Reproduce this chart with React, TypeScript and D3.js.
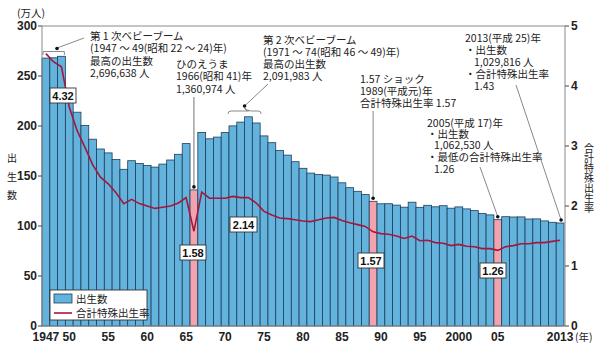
import React from "react";
import * as d3 from "d3";

const years: number[] = d3.range(1947, 2014);
const births: number[] = [
  267.9, 268.2, 269.7, 233.8, 213.8, 200.5, 186.8, 177.0, 173.1, 166.5,
  156.7, 165.3, 162.6, 160.6, 158.9, 161.9, 166.0, 171.7, 182.4, 136.1,
  193.6, 187.2, 188.9, 193.4, 200.1, 203.9, 209.2, 203.0, 190.1, 183.3,
  175.5, 170.9, 164.3, 157.7, 152.9, 151.5, 150.9, 149.0, 143.2, 138.3,
  134.7, 131.4, 124.7, 122.2, 122.3, 120.9, 118.8, 123.8, 118.7, 120.7,
  119.2, 120.3, 117.8, 119.1, 117.1, 115.4, 112.4, 111.1, 106.3, 109.3,
  109.0, 109.1, 107.0, 107.1, 105.1, 103.7, 103.0,
];
const tfr: number[] = [
  4.54, 4.40, 4.32, 3.65, 3.26, 2.98, 2.69, 2.48, 2.37, 2.22,
  2.04, 2.11, 2.04, 2.00, 1.96, 1.98, 2.00, 2.05, 2.14, 1.58,
  2.23, 2.13, 2.13, 2.13, 2.16, 2.14, 2.14, 2.05, 1.91, 1.85,
  1.80, 1.79, 1.77, 1.75, 1.74, 1.77, 1.80, 1.81, 1.76, 1.72,
  1.69, 1.66, 1.57, 1.54, 1.53, 1.50, 1.46, 1.50, 1.42, 1.43,
  1.39, 1.38, 1.34, 1.36, 1.33, 1.32, 1.29, 1.29, 1.26, 1.32,
  1.34, 1.37, 1.37, 1.39, 1.39, 1.41, 1.43,
];
const highlightYears: number[] = [1966, 1989, 2005];
const xTickYears: number[] = [1947, 1950, 1955, 1960, 1965, 1970, 1975, 1980, 1985, 1990, 1995, 2000, 2005, 2013];
const xTickLabels: string[] = ["1947", "50", "55", "60", "65", "70", "75", "80", "85", "90", "95", "2000", "05", "2013"];
const leftTicks: number[] = [0, 50, 100, 150, 200, 250, 300];
const rightTicks: number[] = [0, 1, 2, 3, 4, 5];
const valueBoxes: { year: number; label: string; x: number; y: number; w: number }[] = [
  { year: 1949, label: "4.32", x: 50, y: 88, w: 26 },
  { year: 1966, label: "1.58", x: 180, y: 245, w: 26 },
  { year: 1972, label: "2.14", x: 230, y: 217, w: 27 },
  { year: 1989, label: "1.57", x: 358, y: 253, w: 26 },
  { year: 2005, label: "1.26", x: 480, y: 263, w: 26 },
];

const JP = "'Noto Sans CJK JP', 'Noto Sans', sans-serif";
const NUM = "'Liberation Sans', Arial, sans-serif";

const BAR = "#63b3dd";
const BAR_STROKE = "#1d3d5c";
const PINK = "#f2a3ad";
const LINE = "#a3173f";
const GRAY = "#8a8a8a";

const L = 42, R = 564, T = 26, B = 326;

export default function App() {
  const x = d3.scaleBand<number>().domain(years).range([L, R]).padding(0);
  const yL = d3.scaleLinear().domain([0, 300]).range([B, T]);
  const yR = d3.scaleLinear().domain([0, 5]).range([B, T]);
  const cx = (yr: number) => (x(yr) as number) + x.bandwidth() / 2;
  const line = d3
    .line<number>()
    .x((_, i) => cx(years[i]))
    .y((d) => yR(d));

  const textLines = (x0: number, ys: number[], lines: string[], indents: number[] = []) => (
    <text fontSize={10.5} fontFamily={JP} fill="#222">
      {lines.map((s, i) => (
        <tspan key={i} x={x0 + (indents[i] || 0)} y={ys[i]}>
          {s}
        </tspan>
      ))}
    </text>
  );

  const dot = (px: number, py: number) => <circle cx={px} cy={py} r={1.8} fill="#111" />;

  return (
    <svg width={600} height={350} style={{ position: "absolute", left: 0, top: 0 }}>
      <rect x={0} y={0} width={600} height={350} fill="#fff" />
      {/* bars */}
      {years.map((yr, i) => (
        <rect
          key={yr}
          x={x(yr)}
          y={yL(births[i])}
          width={x.bandwidth()}
          height={B - yL(births[i])}
          fill={highlightYears.includes(yr) ? PINK : BAR}
          stroke={BAR_STROKE}
          strokeWidth={0.8}
        />
      ))}
      {/* frame */}
      <line x1={L} x2={R + 1} y1={T} y2={T} stroke={GRAY} strokeWidth={1} />
      <line x1={L} x2={L} y1={T} y2={B} stroke={GRAY} strokeWidth={1} />
      <line x1={R + 1} x2={R + 1} y1={T} y2={B} stroke={GRAY} strokeWidth={1} />
      <line x1={L} x2={R + 1} y1={B} y2={B} stroke={GRAY} strokeWidth={1} />
      {/* TFR line */}
      <path d={line(tfr) || ""} fill="none" stroke={LINE} strokeWidth={1.6} />
      {/* left axis */}
      {leftTicks.map((t) => (
        <g key={t}>
          <line x1={L - 4} x2={L} y1={yL(t)} y2={yL(t)} stroke="#444" />
          <text x={L - 5} y={yL(t)} dy="0.35em" textAnchor="end" fontSize={12} fontWeight="bold" fontFamily={NUM} fill="#222">
            {t}
          </text>
        </g>
      ))}
      {/* right axis */}
      {rightTicks.map((t) => (
        <g key={t}>
          <line x1={R + 1} x2={R + 5} y1={yR(t)} y2={yR(t)} stroke="#444" />
          <text x={R + 7} y={yR(t)} dy="0.35em" fontSize={12} fontWeight="bold" fontFamily={NUM} fill="#222">
            {t}
          </text>
        </g>
      ))}
      {/* x ticks */}
      {xTickYears.map((yr, i) => (
        <text key={yr} x={cx(yr)} y={341} textAnchor="middle" fontSize={12} fontWeight="bold" fontFamily={NUM} fill="#222">
          {xTickLabels[i]}
        </text>
      ))}
      <text x={575} y={341} fontSize={10.5} fontFamily={JP} fill="#222">(年)</text>
      {/* axis titles */}
      <text x={17} y={17} fontSize={10.5} fontFamily={JP} fill="#222">(万人)</text>
      <text fontSize={10} fontFamily={JP} fill="#222" textAnchor="middle">
        {["出", "生", "数"].map((c, i) => (
          <tspan key={c} x={12} y={162 + i * 18.5}>
            {c}
          </tspan>
        ))}
      </text>
      <text
        x={589}
        y={143}
        fontSize={10}
        fontFamily={JP}
        fill="#222"
        style={{ writingMode: "vertical-rl" as any }}
      >
        合計特殊出生率
      </text>
      {/* value boxes */}
      {valueBoxes.map((b) => (
        <g key={b.label}>
          <rect x={b.x} y={b.y} width={b.w} height={15} fill="#fff" stroke="#333" strokeWidth={0.9} />
          <text x={b.x + b.w / 2} y={b.y + 11.5} textAnchor="middle" fontSize={11} fontWeight="bold" fontFamily={NUM} fill="#111">
            {b.label}
          </text>
        </g>
      ))}
      {/* annotation 1: first baby boom */}
      {textLines(90, [40, 52, 65, 77], ["第 1 次ベビーブーム", "(1947 ～ 49(昭和 22 ～ 24)年)", "最高の出生数", "2,696,638 人"])}
      <path d={`M${x(1947)! + 1},55 V51.5 H${x(1949)! + x.bandwidth() - 1} V55`} fill="none" stroke={GRAY} strokeWidth={1} />
      <line x1={84} y1={38} x2={57} y2={48} stroke={GRAY} strokeWidth={1} />
      {dot(57, 48.5)}
      {/* annotation 2: hinoeuma */}
      {textLines(176, [68, 80, 93], ["ひのえうま", "1966(昭和 41)年", "1,360,974 人"])}
      <line x1={cx(1966)} y1={97} x2={cx(1966)} y2={yL(births[19]) - 3} stroke={GRAY} strokeWidth={1.2} />
      {dot(cx(1966), yL(births[19]) - 3)}
      {/* annotation 3: second baby boom */}
      {textLines(263, [44, 56, 68, 80], ["第 2 次ベビーブーム", "(1971 ～ 74(昭和 46 ～ 49)年)", "最高の出生数", "2,091,983 人"])}
      <path
        d={`M${x(1971)! - 1},114 Q${x(1971)! - 1},111 ${x(1971)! + 2},111 H${cx(1972) + 8} Q${cx(1973) - 3},111 ${x(1973)!},108 Q${x(1973)! + 3},111 ${cx(1973) + 3},111 H${x(1974)! + x.bandwidth() - 2} Q${x(1974)! + x.bandwidth() + 1},111 ${x(1974)! + x.bandwidth() + 1},114`}
        fill="none"
        stroke={GRAY}
        strokeWidth={1}
      />
      <line x1={268} y1={84} x2={x(1973)!} y2={106} stroke={GRAY} strokeWidth={1} />
      {dot(x(1973)!, 106)}
      {/* annotation 4: 1.57 shock */}
      {textLines(360, [83, 95, 107], ["1.57 ショック", "1989(平成元)年", "合計特殊出生率 1.57"])}
      <line x1={cx(1989)} y1={111} x2={cx(1989)} y2={yL(births[42]) - 3} stroke={GRAY} strokeWidth={1} />
      {dot(cx(1989), yL(births[42]) - 3)}
      {/* annotation 5: 2005 */}
      {textLines(427, [127, 138, 149, 161, 173], ["2005(平成 17)年", "・出生数", "1,062,530 人", "・最低の合計特殊出生率", "1.26"], [0, 0, 7, 0, 7])}
      <line x1={480} y1={167} x2={cx(2005)} y2={yL(births[58]) - 3} stroke={GRAY} strokeWidth={1} />
      {dot(cx(2005), yL(births[58]) - 3)}
      {/* annotation 6: 2013 */}
      {textLines(465, [42, 54, 66, 78, 90], ["2013(平成 25)年", "・出生数", "1,029,816 人", "・合計特殊出生率", "1.43"], [0, 0, 9, 0, 9])}
      <line x1={516} y1={85} x2={cx(2013) + 1} y2={yL(births[66]) - 3} stroke={GRAY} strokeWidth={1} />
      {dot(cx(2013) + 1, yL(births[66]) - 3)}
      {/* legend */}
      <rect x={50} y={290} width={97} height={30} fill="#fff" stroke="#333" strokeWidth={0.9} />
      <rect x={54} y={294} width={18} height={9} fill={BAR} stroke={BAR_STROKE} strokeWidth={0.8} />
      <text x={76} y={302.5} fontSize={10.5} fontFamily={JP} fill="#222">出生数</text>
      <line x1={54} x2={72} y1={313} y2={313} stroke={LINE} strokeWidth={1.6} />
      <text x={76} y={316.5} fontSize={10.5} fontFamily={JP} fill="#222">合計特殊出生率</text>
    </svg>
  );
}
